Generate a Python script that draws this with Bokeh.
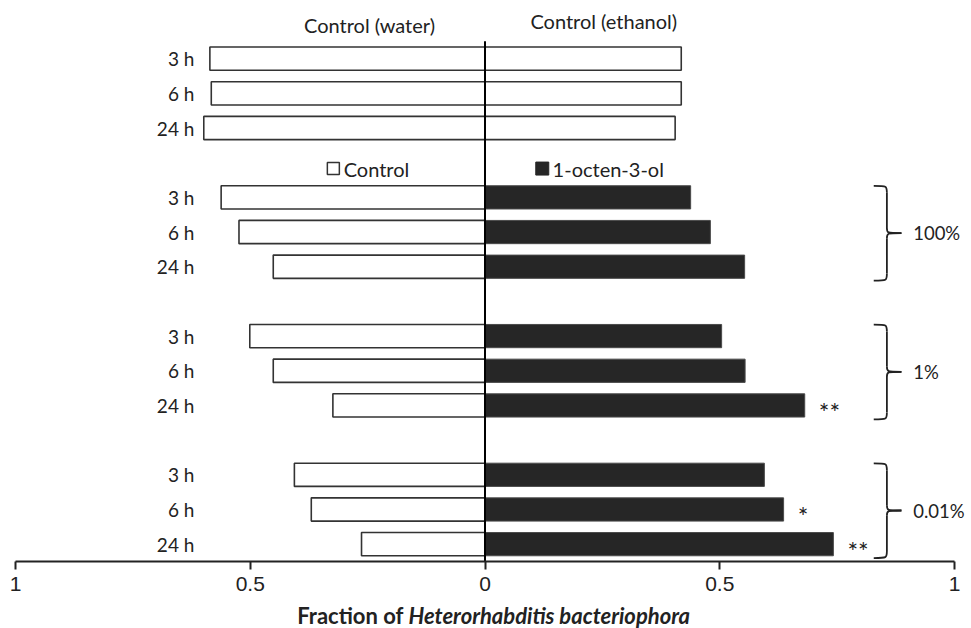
from bokeh.plotting import figure
from bokeh.layouts import column
from bokeh.models import Range1d, FixedTicker, CustomJSTickFormatter
from bokeh.core.properties import value
from bokeh.embed import file_html
from bokeh.resources import INLINE

# ---------------- data ----------------
times = ["3 h", "6 h", "24 h"]
water = [0.586, 0.583, 0.599]
ethanol = [0.418, 0.418, 0.405]
concentrations = ["100%", "1%", "0.01%"]
control_100 = [0.562, 0.524, 0.451]
octenol_100 = [0.438, 0.480, 0.553]
control_1 = [0.501, 0.451, 0.324]
octenol_1 = [0.504, 0.554, 0.681]
control_001 = [0.406, 0.370, 0.263]
octenol_001 = [0.595, 0.636, 0.742]
sig_100 = ["", "", ""]
sig_1 = ["", "", "**"]
sig_001 = ["", "*", "**"]
tick_values = [-1, -0.5, 0, 0.5, 1]
header_labels = ["Control (water)", "Control (ethanol)"]
legend_labels = ["Control", "1-octen-3-ol"]
xlabel_plain = "Fraction of"
xlabel_italic = "Heterorhabditis  bacteriophora"

# ---------------- layout ----------------
W = 971
MAIN_H = 600
TITLE_H = 28
PX_PER_UNIT = 469.5
ZERO_PX = 484.5
ROW_PX = 34.68
BOTTOM_BORDER = 39
y_bottom = 14.5
frame_h = MAIN_H - BOTTOM_BORDER
y_top = y_bottom - frame_h / ROW_PX

FONT = "Lato"
INK = "#222222"
DARK = "#262626"

p = figure(width=W, height=MAIN_H, output_backend="svg", toolbar_location=None,
           x_range=Range1d(-ZERO_PX / PX_PER_UNIT, (W - ZERO_PX) / PX_PER_UNIT),
           y_range=Range1d(y_bottom, y_top),
           y_axis_location=None, min_border_left=0, min_border_right=0,
           min_border_top=0, min_border_bottom=BOTTOM_BORDER)
p.outline_line_color = None
p.grid.visible = False
p.background_fill_color = "white"

BAR_H = 0.67

# top control rows
top_rows = [0, 1, 2]
p.hbar(y=top_rows, left=[-v for v in water], right=0, height=BAR_H,
       fill_color="white", line_color="#333333", line_width=1.6)
p.hbar(y=top_rows, left=0, right=ethanol, height=BAR_H,
       fill_color="white", line_color="#333333", line_width=1.6)

groups = [
    (4, control_100, octenol_100, sig_100, concentrations[0]),
    (8, control_1, octenol_1, sig_1, concentrations[1]),
    (12, control_001, octenol_001, sig_001, concentrations[2]),
]

label_rows = list(top_rows)
BR_END, BR_SPINE, BR_TIP = 0.828, 0.856, 0.887
for start, ctrl, octe, sig, conc in groups:
    rows = [start + i for i in range(3)]
    label_rows += rows
    p.hbar(y=rows, left=[-v for v in ctrl], right=0, height=BAR_H,
           fill_color="white", line_color="#333333", line_width=1.6)
    p.hbar(y=rows, left=0, right=octe, height=BAR_H,
           fill_color=DARK, line_color="#4a4a4a", line_width=1)
    # significance stars
    sx = [v + 0.03 for v, s in zip(octe, sig) if s]
    sy = [r for r, s in zip(rows, sig) if s]
    st = [s for s in sig if s]
    if st:
        p.text(x=sx, y=sy, text=st, text_font=value(FONT), text_font_size="25px",
               text_color=INK, text_align="left", text_baseline="middle", y_offset=7)
    # brace
    top = rows[0] - 0.33
    bot = rows[-1] + 0.40
    mid = (rows[0] + rows[-1]) / 2 + 0.03
    c = 0.2
    p.bezier(x0=[BR_END, BR_SPINE, BR_SPINE, BR_SPINE],
             y0=[top, mid - 0.15, mid + 0.15, bot - c],
             x1=[BR_SPINE, BR_TIP, BR_TIP, BR_END],
             y1=[top + c, mid, mid, bot],
             cx0=[BR_SPINE] * 4,
             cy0=[top, mid, mid, bot],
             cx1=[BR_SPINE] * 4,
             cy1=[top, mid, mid, bot],
             line_color=INK, line_width=1.8)
    p.segment(x0=[BR_SPINE, BR_SPINE], y0=[top + c, mid + 0.15],
              x1=[BR_SPINE, BR_SPINE], y1=[mid - 0.15, bot - c],
              line_color=INK, line_width=1.8)
    p.text(x=[BR_TIP + 0.025], y=[mid], text=[conc], text_font=value(FONT),
           text_font_size="18.5px", text_color=INK, text_align="left", text_baseline="middle")

# vertical zero line
p.segment(x0=[0], y0=[-0.5], x1=[0], y1=[y_bottom], line_color="black", line_width=2)

# row labels
p.text(x=[-0.619] * len(label_rows), y=label_rows, text=times * 4,
       text_font=value(FONT), text_font_size="19px", text_color=INK,
       text_align="right", text_baseline="middle")

# headers
p.text(x=[-0.246, 0.253], y=[-0.97, -1.09], text=header_labels,
       text_font=value(FONT), text_font_size="20px", text_color=INK,
       text_align="center", text_baseline="middle")

# legend
leg_y = 3.17
p.scatter(x=[-0.323], y=[leg_y], marker="square", size=12, fill_color="white",
          line_color="#333333", line_width=1.5)
p.scatter(x=[0.122], y=[leg_y], marker="square", size=13, fill_color=DARK,
          line_color=DARK, line_width=1)
p.text(x=[-0.301, 0.144], y=[leg_y, leg_y], text=legend_labels,
       text_font=value(FONT), text_font_size="20px", text_color=INK,
       text_align="left", text_baseline="middle")

# x axis
ax = p.xaxis[0]
ax.ticker = FixedTicker(ticks=tick_values)
ax.formatter = CustomJSTickFormatter(code="return String(Math.abs(tick));")
ax.bounds = (-1, 1)
ax.axis_line_width = 2
ax.axis_line_color = INK
ax.major_tick_line_width = 2
ax.major_tick_line_color = INK
ax.major_tick_in = 0
ax.major_tick_out = 8
ax.minor_tick_line_color = None
ax.major_label_standoff = 7
ax.major_label_text_font = "Liberation Sans"
ax.major_label_text_font_size = "21px"
ax.major_label_text_color = INK

# axis title strip (mixed bold / bold italic)
t = figure(width=W, height=TITLE_H, output_backend="svg", toolbar_location=None,
           x_range=Range1d(0, W), y_range=Range1d(0, TITLE_H),
           x_axis_location=None, y_axis_location=None,
           min_border_left=0, min_border_right=0, min_border_top=0, min_border_bottom=0)
t.outline_line_color = None
t.grid.visible = False
t.text(x=[403], y=[13.5], text=[xlabel_plain], text_font=value(FONT),
       text_font_style="bold", text_font_size="22px", text_color=INK,
       text_align="right", text_baseline="middle")
t.text(x=[408], y=[13.5], text=[xlabel_italic], text_font=value(FONT),
       text_font_style="bold italic", text_font_size="22px", text_color=INK,
       text_align="left", text_baseline="middle")

layout = column(p, t, spacing=0)
open("out.html", "w").write(file_html(layout, INLINE))
